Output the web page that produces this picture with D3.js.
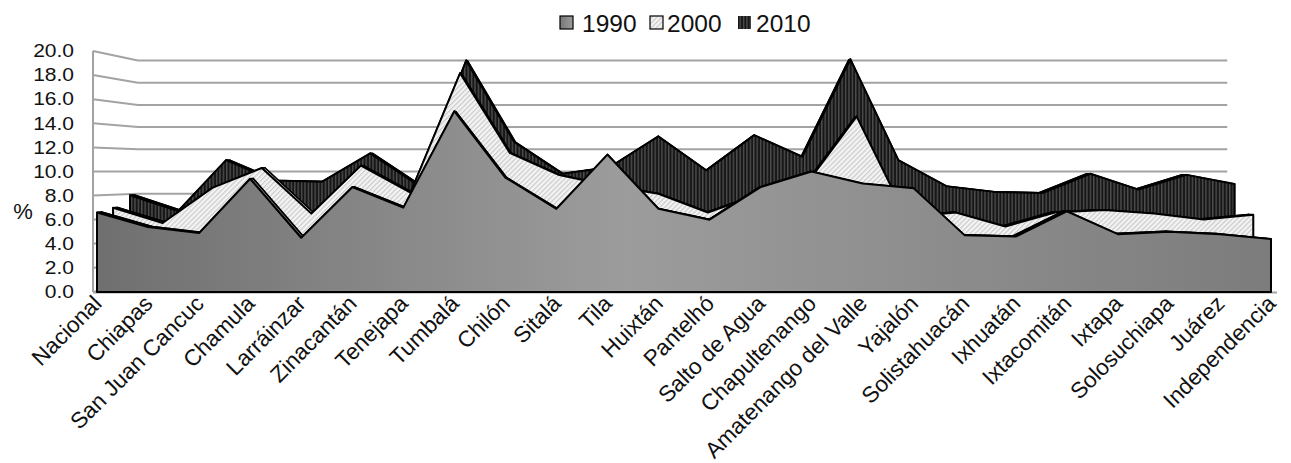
<!DOCTYPE html>
<html>
<head>
<meta charset="utf-8">
<script src="https://cdn.jsdelivr.net/npm/d3@7"></script>
<style>
  html, body { margin: 0; padding: 0; background: #fff; }
  svg { display: block; font-family: Arial, "Liberation Sans", sans-serif; }
</style>
</head>
<body>
<svg id="chart" width="1291" height="463"></svg>
<script>
// Categories (municipalities) and the three census years
const categories = ["Nacional", "Chiapas", "San Juan Cancuc", "Chamula", "Larráinzar", "Zinacantán",
  "Tenejapa", "Tumbalá", "Chilón", "Sitalá", "Tila", "Huixtán", "Pantelhó", "Salto de Agua",
  "Chapultenango", "Amatenango del Valle", "Yajalón", "Solistahuacán", "Ixhuatán", "Ixtacomitán",
  "Ixtapa", "Solosuchiapa", "Juárez", "Independencia"];

const years = ["1990", "2000", "2010"];

const values1990 = [6.6, 5.4, 4.9, 9.4, 4.5, 8.7, 7.0, 15.0, 9.5, 6.9, 11.4, 6.9, 6.0, 8.7,
  10.0, 9.0, 8.6, 4.7, 4.6, 6.7, 4.8, 5.0, 4.8, 4.4];
const values2000 = [6.9, 5.6, 8.6, 10.3, 6.4, 10.5, 8.2, 18.4, 11.6, 9.7, 8.8, 8.1, 6.5, 8.0,
  9.0, 14.7, 6.1, 6.5, 5.3, 6.5, 6.7, 6.4, 5.9, 6.3];
const values2010 = [7.9, 6.5, 11.0, 9.2, 9.1, 11.6, 8.8, 19.8, 12.6, 9.8, 10.4, 13.1, 10.1, 13.2,
  11.3, 19.9, 11.0, 8.7, 8.2, 8.1, 9.8, 8.4, 9.7, 8.9];

const yTicks = [0, 2, 4, 6, 8, 10, 12, 14, 16, 18, 20];

const svg = d3.select("#chart");

// Front-plane scales
const x = d3.scalePoint().domain(categories).range([97, 1271]);
const y = d3.scaleLinear().domain([0, 20]).range([292, 51]);
const plotLeft = 93, plotRight = 1277;

// Simple perspective: deeper points shrink toward a vanishing centre
const vc = [655, 171], shrink = 0.08;
function proj(px, py, d) {
  const s = 1 - shrink * d;
  return [vc[0] + (px - vc[0]) * s, vc[1] + (py - vc[1]) * s];
}

// ---- fills ----
const defs = svg.append("defs");
const g90 = defs.append("linearGradient").attr("id", "fill1990")
  .attr("gradientUnits", "userSpaceOnUse").attr("x1", plotLeft).attr("x2", plotRight)
  .attr("y1", 0).attr("y2", 0);
g90.append("stop").attr("offset", "0%").attr("stop-color", "#6f6f6f");
g90.append("stop").attr("offset", "45%").attr("stop-color", "#9c9c9c");
g90.append("stop").attr("offset", "100%").attr("stop-color", "#7c7c7c");

const legGrad = defs.append("linearGradient").attr("id", "fill1990leg");
legGrad.append("stop").attr("offset", "0%").attr("stop-color", "#777");
legGrad.append("stop").attr("offset", "100%").attr("stop-color", "#9c9c9c");

const p00 = defs.append("pattern").attr("id", "fill2000").attr("patternUnits", "userSpaceOnUse")
  .attr("width", 3.5).attr("height", 3.5).attr("patternTransform", "rotate(45)");
p00.append("rect").attr("width", 3.5).attr("height", 3.5).attr("fill", "#f4f4f4");
p00.append("rect").attr("width", 1.3).attr("height", 3.5).attr("fill", "#cdcdcd");

const p10 = defs.append("pattern").attr("id", "fill2010").attr("patternUnits", "userSpaceOnUse")
  .attr("width", 3.4).attr("height", 10);
p10.append("rect").attr("width", 3.4).attr("height", 10).attr("fill", "#161616");
p10.append("rect").attr("x", 1.8).attr("width", 1.2).attr("height", 10).attr("fill", "#555");

// ---- walls and gridlines ----
const grid = svg.append("g").attr("stroke", "#a3a3a3").attr("stroke-width", 2).attr("fill", "none");
yTicks.forEach(v => {
  const a = proj(plotLeft, y(v), 1), b = proj(plotRight, y(v), 1);
  if (v > 0) grid.append("line").attr("x1", a[0]).attr("y1", a[1]).attr("x2", b[0]).attr("y2", b[1]);
  grid.append("line").attr("x1", plotLeft).attr("y1", y(v)).attr("x2", a[0]).attr("y2", a[1]);
});
grid.append("line").attr("x1", plotLeft).attr("y1", y(0)).attr("x2", plotLeft).attr("y2", y(20));
grid.append("line").attr("x1", plotLeft).attr("y1", y(0) + 0.5).attr("x2", plotRight).attr("y2", y(0) + 0.5);

// ---- series (drawn back to front) ----
const series = [
  { name: "2010", values: values2010, depth: 0.74, fill: "url(#fill2010)" },
  { name: "2000", values: values2000, depth: 0.36, fill: "url(#fill2000)" },
  { name: "1990", values: values1990, depth: 0.0, fill: "url(#fill1990)" }
];
const thickness = 0.1;
const line = d3.line();

series.forEach(s => {
  const face = d => {
    const pts = [proj(x(categories[0]), y(0), d)];
    s.values.forEach((v, i) => pts.push(proj(x(categories[i]), y(v), d)));
    pts.push(proj(x(categories[categories.length - 1]), y(0), d));
    return pts;
  };
  const front = face(s.depth), back = face(s.depth + thickness);
  const g = svg.append("g").attr("class", "series-" + s.name)
    .attr("fill", s.fill).attr("stroke", "#000").attr("stroke-width", 1.6)
    .attr("stroke-linejoin", "round");
  g.append("path").attr("d", line(back) + "Z");
  for (let i = 0; i < front.length - 1; i++) {
    g.append("path").attr("d", line([front[i], front[i + 1], back[i + 1], back[i]]) + "Z");
  }
  g.append("path").attr("d", line(front) + "Z").attr("stroke-width", 2);
});

// ---- axis labels ----
const yl = svg.append("g").attr("font-size", 17.5).attr("fill", "#111");
yTicks.forEach(v => {
  yl.append("text").attr("transform", `translate(74,${y(v) + 6.2}) scale(1.2,1)`)
    .attr("text-anchor", "end").text(v.toFixed(1));
});
svg.append("text").attr("x", 23).attr("y", 219).attr("text-anchor", "middle")
  .attr("font-size", 22).attr("fill", "#111").text("%");

const xl = svg.append("g").attr("font-size", 22.5).attr("fill", "#111");
categories.forEach(c => {
  xl.append("text").attr("transform", `translate(${x(c) + 6},${305}) rotate(-45)`)
    .attr("text-anchor", "end").text(c);
});

// ---- legend ----
const legend = svg.append("g").attr("font-size", 24.5).attr("fill", "#111");
const legItems = [
  { name: "1990", fill: "url(#fill1990leg)", sx: 560, tx: 582, stroke: "#000" },
  { name: "2000", fill: "url(#fill2000)", sx: 650, tx: 667, stroke: "#000" },
  { name: "2010", fill: "url(#fill2010)", sx: 738, tx: 756, stroke: "none" }
];
legItems.forEach(l => {
  legend.append("rect").attr("x", l.sx).attr("y", 16).attr("width", 13).attr("height", 13)
    .attr("fill", l.fill).attr("stroke", l.stroke).attr("stroke-width", 1.2);
  legend.append("text").attr("x", l.tx).attr("y", 32).text(l.name);
});
</script>
</body>
</html>
